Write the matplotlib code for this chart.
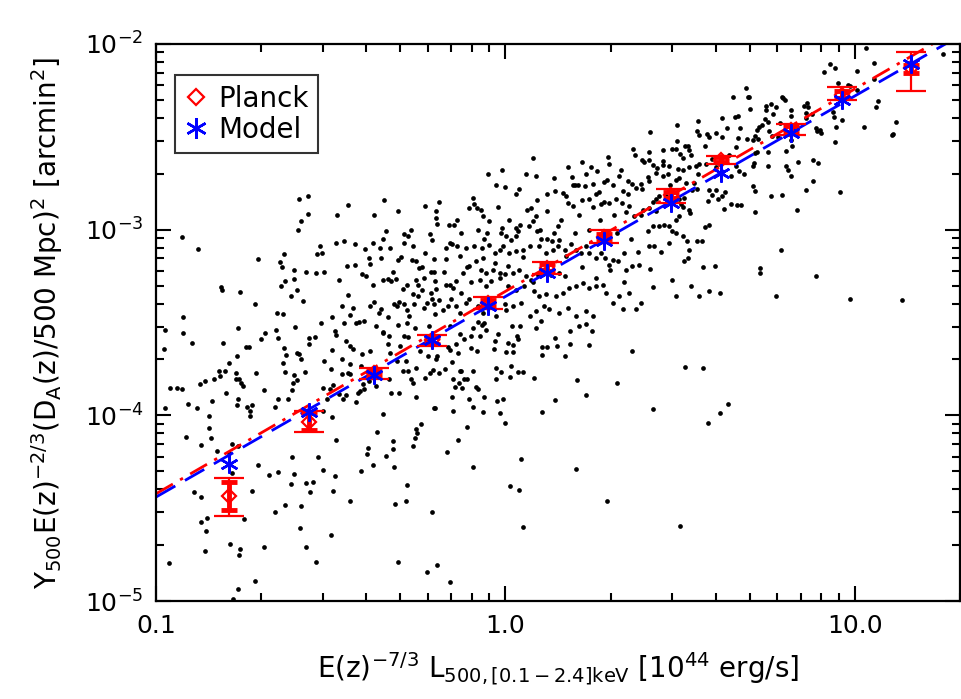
import numpy as np
import matplotlib
matplotlib.use("Agg")
import matplotlib.pyplot as plt
from matplotlib.ticker import LogLocator, FixedLocator, FixedFormatter, NullFormatter

plt.rcParams["font.family"] = ["DejaVu Sans"]
plt.rcParams["mathtext.fontset"] = "dejavusans"

# individual clusters, (log10 L, log10 Y)
clusters_log = [
    (-0.927, -3.039), (-0.881, -3.104), (-0.591, -2.837), (-0.564, -2.821), (-0.584, -2.952),
    (-0.564, -2.914), (-0.595, -3.002), (-0.451, -2.866), (-0.482, -2.919), (-0.349, -2.839),
    (-0.308, -2.902), (-0.377, -2.923), (-0.231, -2.871), (-0.191, -2.851), (-0.200, -2.937),
    (-0.197, -2.972), (-0.161, -2.977), (-0.341, -3.005), (-0.289, -3.023), (-0.280, -3.034),
    (-0.217, -3.022), (-0.210, -3.054), (-0.532, -3.086), (-0.525, -3.124), (-0.538, -3.133),
    (-0.635, -3.131), (-0.646, -3.172), (-0.640, -3.203), (-0.707, -3.158), (-0.484, -3.074),
    (-0.462, -3.061), (-0.432, -3.077), (-0.402, -3.104), (-0.380, -3.072), (-0.351, -3.048),
    (-0.360, -3.098), (-0.331, -3.097), (-0.291, -3.070), (-0.264, -3.090), (-0.390, -3.152),
    (-0.389, -3.184), (-0.355, -3.152), (-0.307, -3.165), (-0.267, -3.165), (-0.256, -3.170),
    (-0.205, -3.160), (-0.229, -3.125), (-0.169, -3.156), (-0.454, -3.194), (-0.432, -3.190),
    (-0.606, -3.215), (-0.571, -3.226), (-0.543, -3.233), (-0.520, -3.228), (-0.411, -3.237),
    (-0.400, -3.251), (-0.322, -3.228), (-0.248, -3.208), (-0.212, -3.226), (-0.205, -3.228),
    (-0.176, -3.230), (-0.632, -3.274), (-0.642, -3.305), (-0.606, -3.265), (-0.597, -3.323),
    (-0.615, -3.356), (-0.580, -3.382), (-0.476, -3.269), (-0.351, -3.269), (-0.337, -3.265),
    (-0.329, -3.274), (-0.312, -3.265), (-0.281, -3.296), (-0.256, -3.272), (-0.234, -3.260),
    (-0.201, -3.278), (-0.171, -3.299), (-0.198, -3.319), (-0.292, -3.319), (-0.264, -3.348),
    (-0.250, -3.358), (-0.212, -3.342), (-0.209, -3.371), (-0.238, -3.323), (-0.814, -3.308),
    (-0.811, -3.326), (-0.759, -3.335), (-0.718, -3.399), (-0.655, -3.448), (-0.638, -3.457),
    (-0.923, -3.469), (-0.467, -3.409), (-0.437, -3.423), (-0.446, -3.462), (-0.495, -3.469),
    (-0.389, -3.412), (-0.377, -3.387), (-0.355, -3.426), (-0.362, -3.448), (-0.337, -3.469),
    (-0.309, -3.412), (-0.306, -3.387), (-0.283, -3.435), (-0.275, -3.466), (-0.291, -3.399),
    (-0.262, -3.403), (-0.234, -3.423), (-0.225, -3.394), (-0.205, -3.403), (-0.201, -3.452),
    (-0.180, -3.434), (-0.165, -3.412),
    (0.688, -2.235), (0.652, -2.283), (0.695, -2.283), (0.657, -2.391), (0.665, -2.389),
    (0.552, -2.414), (0.490, -2.434), (0.413, -2.473), (0.548, -2.471), (0.554, -2.489),
    (0.578, -2.486), (0.602, -2.480), (0.583, -2.502), (0.621, -2.500), (0.665, -2.507),
    (0.661, -2.556), (0.690, -2.511), (0.633, -2.450), (0.476, -2.565), (0.488, -2.565),
    (0.513, -2.547), (0.521, -2.552), (0.526, -2.570), (0.366, -2.566), (0.499, -2.595),
    (0.507, -2.616), (0.450, -2.629), (0.411, -2.627), (0.392, -2.624), (0.397, -2.636),
    (0.423, -2.651), (0.435, -2.668), (0.450, -2.651), (0.469, -2.656), (0.495, -2.674),
    (0.507, -2.677), (0.526, -2.665), (0.545, -2.659), (0.554, -2.649), (0.573, -2.649),
    (0.602, -2.663), (0.613, -2.642), (0.659, -2.659), (0.645, -2.713), (0.669, -2.686),
    (0.682, -2.699), (0.219, -2.633), (0.245, -2.663), (0.293, -2.609), (0.295, -2.647),
    (0.263, -2.685), (0.080, -2.615), (0.087, -2.713), (-0.010, -2.679), (-0.027, -2.762),
    (-0.001, -2.772), (0.031, -2.808), (0.190, -2.719), (0.192, -2.762), (0.200, -2.762),
    (0.207, -2.762), (0.229, -2.767), (0.250, -2.753), (0.281, -2.746), (0.307, -2.762),
    (0.335, -2.794), (0.326, -2.713), (0.352, -2.740), (0.362, -2.754), (0.373, -2.776),
    (0.388, -2.753), (0.408, -2.717), (0.411, -2.737), (0.430, -2.695), (0.450, -2.713),
    (0.464, -2.699), (0.488, -2.731), (0.497, -2.722), (0.516, -2.749), (0.540, -2.749),
    (0.535, -2.789), (0.549, -2.781), (0.583, -2.789), (0.592, -2.812), (0.602, -2.785),
    (0.621, -2.821), (0.629, -2.797), (0.626, -2.887), (0.645, -2.860), (0.663, -2.869),
    (0.674, -2.869), (0.579, -2.848), (0.608, -2.833),
    (0.119, -2.806), (0.143, -2.794), (0.164, -2.803), (0.173, -2.821), (0.178, -2.857),
    (0.194, -2.871), (0.219, -2.839), (0.240, -2.835), (0.259, -2.806), (0.269, -2.799),
    (0.274, -2.860), (0.283, -2.853), (0.297, -2.857), (0.316, -2.835), (0.333, -2.857),
    (0.344, -2.907), (0.354, -2.875), (0.369, -2.928), (0.388, -2.919), (0.395, -2.892),
    (0.411, -2.884), (0.421, -2.853), (0.432, -2.835), (0.440, -2.821), (0.459, -2.817),
    (0.473, -2.830), (0.497, -2.835), (0.502, -2.862), (0.509, -2.880), (0.524, -2.892),
    (0.528, -2.910), (0.497, -2.928), (0.488, -2.946), (0.469, -2.982), (0.478, -3.005),
    (0.454, -2.973), (0.438, -2.982), (0.421, -2.982), (0.408, -3.005), (0.410, -3.086),
    (0.424, -3.090), (0.446, -3.120), (0.469, -3.072), (0.488, -3.018), (0.507, -3.036),
    (0.519, -3.059), (0.526, -3.108), (0.547, -3.063), (0.562, -3.059), (0.570, -2.987),
    (0.583, -2.975), (0.522, -3.154), (0.511, -3.170), (0.564, -3.201), (0.600, -3.197),
    (0.478, -3.269), (0.488, -3.355), (0.421, -3.308), (0.532, -3.305), (0.554, -3.355),
    (0.583, -3.332), (0.613, -3.341), (0.414, -3.211), (0.383, -3.188), (0.362, -3.197),
    (0.345, -3.220), (0.338, -3.125), (0.321, -3.170), (0.307, -3.161), (0.297, -3.188),
    (0.284, -3.152), (0.273, -3.125), (0.259, -3.152), (0.240, -3.125), (0.230, -3.090),
    (0.216, -3.125), (0.202, -3.108), (0.188, -3.075), (0.173, -3.143), (0.154, -3.054),
    (0.140, -3.018), (0.132, -3.063), (0.118, -3.050), (0.102, -3.050), (0.090, -3.009),
    (0.078, -2.955), (0.067, -2.982), (0.061, -2.892), (0.073, -2.884), (0.088, -2.928),
    (0.042, -2.973), (0.035, -3.009), (0.030, -3.036), (0.016, -3.054), (0.002, -3.036),
    (-0.010, -2.991), (-0.012, -3.018), (-0.046, -2.955), (-0.053, -3.018), (-0.065, -2.928),
    (-0.070, -2.892), (-0.082, -2.884), (-0.093, -2.830), (-0.091, -2.862), (-0.103, -2.884),
    (-0.127, -3.018), (-0.139, -3.090), (-0.152, -3.075), (-0.146, -2.973), (-0.160, -3.072),
    (-0.131, -3.143), (-0.112, -3.099), (-0.089, -3.090), (-0.067, -3.099), (-0.046, -3.081),
    (-0.031, -3.125), (-0.017, -3.108), (-0.008, -3.086), (0.011, -3.125), (0.030, -3.116),
    (0.050, -3.108), (0.069, -3.090), (0.097, -3.090), (0.116, -3.125), (0.135, -3.111),
    (0.150, -3.090), (0.169, -3.108), (-0.065, -3.152), (-0.084, -3.170), (-0.103, -3.197),
    (-0.122, -3.233), (-0.141, -3.278), (-0.150, -3.314), (-0.127, -3.341), (-0.112, -3.394),
    (-0.141, -3.412), (-0.155, -3.376), (-0.070, -3.215), (-0.055, -3.233), (-0.036, -3.215),
    (-0.017, -3.233), (0.007, -3.197), (0.021, -3.233), (0.040, -3.215), (0.059, -3.251),
    (0.073, -3.269), (0.092, -3.242), (0.107, -3.215), (0.130, -3.242), (0.154, -3.233),
    (-0.074, -3.269), (-0.055, -3.305), (-0.041, -3.278), (-0.017, -3.260), (0.007, -3.305),
    (0.030, -3.323), (0.054, -3.305), (0.083, -3.332), (0.097, -3.358), (0.116, -3.349),
    (0.145, -3.358), (0.164, -3.341), (0.183, -3.314), (0.202, -3.305), (0.221, -3.287),
    (0.240, -3.314), (0.259, -3.305), (0.278, -3.296), (0.288, -3.341), (0.307, -3.394),
    (0.326, -3.358), (0.354, -3.341), (0.388, -3.394), (0.373, -3.430), (0.335, -3.430),
    (-0.103, -3.376), (-0.079, -3.412), (-0.065, -3.448), (-0.027, -3.466), (0.002, -3.434),
    (0.021, -3.412), (0.045, -3.394), (0.069, -3.466), (0.088, -3.439), (0.111, -3.412),
    (0.126, -3.430), (0.154, -3.448), (0.178, -3.421), (0.202, -3.466), (0.230, -3.439),
    (0.250, -3.466),
    (1.031, -2.023), (1.251, -2.054), (0.930, -2.109), (0.942, -2.131), (0.913, -2.151),
    (1.007, -2.143), (1.054, -2.100), (0.952, -2.211), (0.979, -2.220), (0.986, -2.229),
    (1.007, -2.247), (1.054, -2.190), (1.066, -2.305), (1.059, -2.341), (1.119, -2.418),
    (1.110, -2.484), (1.107, -2.491), (1.026, -2.448), (0.963, -2.410), (0.946, -2.448),
    (0.940, -2.391), (0.938, -2.369), (0.942, -2.527), (0.697, -2.283), (0.745, -2.332),
    (0.760, -2.323), (0.773, -2.337), (0.747, -2.355), (0.767, -2.376), (0.743, -2.403),
    (0.733, -2.435), (0.726, -2.448), (0.721, -2.462), (0.714, -2.498), (0.709, -2.516),
    (0.724, -2.513), (0.754, -2.471), (0.764, -2.498), (0.790, -2.283), (0.795, -2.292),
    (0.816, -2.358), (0.817, -2.387), (0.785, -2.427), (0.854, -2.333), (0.864, -2.319),
    (0.867, -2.337), (0.859, -2.373), (0.878, -2.376), (0.890, -2.453), (0.892, -2.471),
    (0.901, -2.462), (0.904, -2.480), (0.816, -2.516), (0.819, -2.552), (0.802, -2.579),
    (0.750, -2.584), (0.714, -2.588), (0.711, -2.642), (0.709, -2.659), (0.750, -2.656),
    (0.802, -2.659), (0.810, -2.677), (0.816, -2.713), (0.838, -2.633), (0.881, -2.624),
    (0.895, -2.642), (0.881, -2.740), (0.860, -2.789), (0.957, -2.796), (0.709, -2.767),
    (0.714, -2.794), (0.761, -2.821), (0.790, -2.812), (0.713, -2.907), (0.835, -2.896),
    (0.788, -3.108), (0.729, -3.204), (0.729, -3.233), (0.890, -3.247), (0.773, -3.355),
    (0.986, -3.371), (1.134, -3.380),
    (-0.974, -3.541), (-0.924, -3.556), (-0.898, -3.613), (-0.977, -3.645), (-0.808, -3.609),
    (-0.765, -3.529), (-0.791, -3.717), (-0.767, -3.681), (-0.743, -3.631), (-0.733, -3.631),
    (-0.700, -3.588), (-0.689, -3.556), (-0.657, -3.541), (-0.650, -3.582), (-0.603, -3.523),
    (-0.634, -3.636), (-0.629, -3.677), (-0.636, -3.720), (-0.631, -3.767), (-0.598, -3.667),
    (-0.591, -3.672), (-0.584, -3.695), (-0.562, -3.582), (-0.546, -3.577), (-0.562, -3.618),
    (-0.527, -3.502), (-0.520, -3.708), (-0.498, -3.749), (-0.495, -3.649), (-0.489, -3.547),
    (-0.484, -3.565), (-0.463, -3.502), (-0.455, -3.600), (-0.446, -3.624), (-0.467, -3.695),
    (-0.436, -3.642), (-0.427, -3.502), (-0.406, -3.493), (-0.411, -3.672), (-0.446, -3.726),
    (-0.450, -3.771), (-0.467, -3.780), (-0.414, -3.735), (-0.389, -3.654), (-0.370, -3.520),
    (-0.350, -3.559), (-0.333, -3.573), (-0.336, -3.618), (-0.331, -3.663), (-0.308, -3.511),
    (-0.282, -3.505), (-0.260, -3.529), (-0.289, -3.573), (-0.303, -3.627), (-0.310, -3.708),
    (-0.284, -3.708), (-0.257, -3.744), (-0.244, -3.654), (-0.222, -3.681), (-0.208, -3.756),
    (-0.190, -3.774), (-0.174, -3.753), (-0.196, -3.681), (-0.200, -3.699), (-0.165, -3.631),
    (-0.960, -3.851), (-0.941, -3.851), (-0.925, -3.860), (-0.974, -3.959), (-0.908, -3.941),
    (-0.884, -3.959), (-0.874, -3.833), (-0.860, -3.815), (-0.841, -3.923), (-0.848, -4.004),
    (-0.819, -3.762), (-0.834, -3.803), (-0.817, -3.789), (-0.803, -3.762), (-0.800, -3.878),
    (-0.770, -3.774), (-0.771, -3.803), (-0.762, -3.806), (-0.758, -3.824), (-0.752, -3.842),
    (-0.765, -3.914), (-0.768, -3.946), (-0.741, -3.953), (-0.731, -3.977), (-0.714, -3.771),
    (-0.691, -3.864), (-0.660, -3.953), (-0.652, -3.910), (-0.623, -3.910), (-0.612, -3.864),
    (-0.608, -3.824), (-0.598, -3.810), (-0.605, -3.785), (-0.573, -3.767), (-0.522, -3.851),
    (-0.503, -3.860), (-0.493, -3.839), (-0.510, -3.914), (-0.495, -4.007), (-0.521, -3.977),
    (-0.476, -3.887), (-0.465, -3.914), (-0.455, -3.892), (-0.446, -3.780), (-0.429, -3.928),
    (-0.421, -3.882), (-0.415, -3.869), (-0.406, -3.860), (-0.408, -3.833), (-0.391, -3.815),
    (-0.371, -3.842), (-0.333, -3.806), (-0.327, -3.882), (-0.305, -3.882), (-0.293, -3.762),
    (-0.279, -3.762), (-0.265, -3.824), (-0.270, -3.806), (-0.255, -3.900), (-0.229, -3.797),
    (-0.215, -3.774), (-0.203, -3.959), (-0.914, -4.115), (-0.872, -4.159), (-0.848, -4.066),
    (-0.843, -4.120), (-0.825, -4.192), (-0.784, -4.156), (-0.765, -4.167), (-0.731, -4.004),
    (-0.724, -3.946), (-0.708, -4.267), (-0.677, -4.323), (-0.650, -4.303), (-0.610, -4.222),
    (-0.605, -4.317), (-0.615, -4.371), (-0.630, -4.484), (-0.570, -4.362), (-0.550, -4.357),
    (-0.560, -4.412), (-0.536, -4.224), (-0.522, -4.294), (-0.489, -4.326), (-0.493, -4.410),
    (-0.486, -4.133), (-0.446, -4.461), (-0.392, -4.177), (-0.396, -4.206), (-0.379, -4.267),
    (-0.412, -4.299), (-0.367, -4.090), (-0.350, -3.991), (-0.322, -4.138), (-0.322, -4.179),
    (-0.343, -4.219), (-0.320, -4.276), (-0.317, -4.475), (-0.281, -4.376), (-0.286, -4.461),
    (-0.265, -4.165), (-0.260, -4.120), (-0.252, -4.093), (-0.241, -4.048), (-0.255, -4.075),
    (-0.167, -4.195), (-0.205, -3.959), (-0.210, -4.523), (-0.224, -4.846), (-0.196, -4.806),
    (-0.308, -4.792), (-0.541, -4.792), (-0.571, -4.708), (-0.587, -4.609), (-0.584, -4.491),
    (-0.660, -4.523), (-0.498, -4.645), (-0.690, -4.708), (-0.717, -4.892), (-0.765, -4.935),
    (-0.762, -4.753), (-0.760, -4.720), (-0.789, -4.694), (-0.779, -4.989), (-0.859, -4.731),
    (-0.872, -4.577), (-0.855, -4.552), (-0.857, -4.625), (-0.890, -4.412), (-0.870, -4.439),
    (-0.962, -4.796), (-0.748, -4.559), (-0.724, -4.407), (-0.792, -4.201), (-0.784, -4.308),
    (-0.160, -3.520), (-0.130, -3.564), (-0.120, -3.588), (-0.141, -3.618), (-0.136, -3.663),
    (-0.152, -3.713), (-0.158, -3.649), (-0.149, -3.803), (-0.133, -3.824), (-0.143, -3.848),
    (-0.125, -3.851), (-0.118, -3.803), (-0.109, -3.803), (-0.131, -3.762), (-0.126, -3.762),
    (-0.093, -3.762), (-0.099, -3.636), (-0.082, -3.651), (-0.098, -3.573), (-0.093, -3.529),
    (-0.072, -3.573), (-0.068, -3.516), (-0.060, -3.505), (-0.055, -3.541), (-0.152, -3.901),
    (-0.150, -3.978), (-0.105, -3.914), (-0.093, -3.953), (-0.065, -3.984), (-0.061, -3.900),
    (-0.084, -3.846), (-0.079, -3.860), (-0.027, -3.744), (-0.012, -3.767), (-0.027, -3.806),
    (-0.033, -3.645), (-0.031, -3.600), (0.007, -3.609), (0.002, -3.658), (0.021, -3.659),
    (0.023, -3.622), (0.018, -3.520), (0.032, -3.573), (0.042, -3.520), (0.035, -3.588),
    (0.016, -3.735), (0.013, -3.794), (0.037, -3.767), (0.050, -3.767), (-0.024, -3.923),
    (-0.007, -3.910), (-0.017, -3.987), (-0.001, -4.041), (-0.109, -4.061), (-0.136, -4.134),
    (-0.093, -4.280), (0.044, -4.233), (0.014, -4.380), (0.038, -4.400), (0.050, -4.600),
    (-0.160, -4.896), (0.081, -3.798), (0.088, -3.529), (0.102, -3.493), (0.105, -3.631),
    (0.118, -3.631), (0.105, -3.674), (0.105, -3.980), (0.142, -3.918), (0.143, -3.586),
    (0.148, -3.624), (0.169, -3.681), (0.185, -3.618), (0.185, -3.547), (0.211, -3.520),
    (0.230, -3.507), (0.238, -3.620), (0.247, -3.548), (0.205, -3.810), (0.231, -3.889),
    (0.201, -4.287), (0.290, -4.461), (0.319, -3.828), (0.362, -3.652), (0.422, -3.964),
    (0.499, -4.595), (0.513, -3.738), (0.566, -3.744), (0.580, -4.039), (0.613, -3.987),
    (0.636, -3.937),
    # denser part of the band, read at lower precision
    (-0.05, -2.70), (-0.02, -2.88), (0.01, -2.95), (0.04, -2.78), (0.06, -2.70),
    (0.09, -2.84), (0.12, -2.90), (0.14, -2.72), (0.16, -2.95), (0.18, -2.66),
    (0.21, -2.92), (0.23, -2.70), (0.25, -2.88), (0.27, -2.95), (0.29, -2.73),
    (0.31, -2.92), (0.33, -2.68), (0.35, -2.81), (0.37, -2.60), (0.39, -2.78),
    (0.41, -2.58), (0.43, -2.90), (0.45, -2.57), (0.47, -2.76), (0.49, -2.52),
    (0.51, -2.83), (0.53, -2.60), (0.55, -2.70), (0.57, -2.55), (0.59, -2.62),
    (-0.06, -3.05), (-0.03, -3.18), (0.00, -3.24), (0.03, -2.99), (0.05, -3.15),
    (0.08, -3.28), (0.10, -3.00), (0.13, -3.18), (0.15, -2.98), (0.17, -3.25),
    (0.20, -3.02), (0.22, -3.20), (0.24, -3.00), (0.26, -3.26), (0.28, -3.05),
    (0.30, -3.22), (0.32, -3.02), (0.34, -3.28), (0.36, -3.05), (0.38, -3.12),
    (-0.45, -3.35), (-0.42, -3.50), (-0.38, -3.30), (-0.35, -3.55), (-0.32, -3.40),
    (-0.28, -3.58), (-0.25, -3.30), (-0.22, -3.52), (-0.19, -3.38), (-0.16, -3.30),
    (-0.13, -3.45), (-0.10, -3.28), (-0.08, -3.50), (-0.05, -3.38), (-0.02, -3.56),
    (0.00, -3.40), (-0.30, -3.15), (-0.27, -3.00), (-0.24, -3.20), (-0.20, -2.90),
    (-0.17, -3.10), (-0.14, -2.95), (-0.11, -3.20), (-0.08, -3.00),
    (0.62, -2.40), (0.64, -2.60), (0.67, -2.45), (0.70, -2.35), (0.72, -2.58),
    (0.75, -2.42), (0.78, -2.50), (0.80, -2.30), (0.83, -2.45), (0.86, -2.40),
]

# binned relation
bin_lx = [0.162, 0.274, 0.420, 0.615, 0.889, 1.318, 1.918, 2.98, 4.14, 6.56, 9.18, 14.45]
model_y = [5.46e-5, 1.04e-4, 1.64e-4, 2.53e-4, 3.86e-4, 5.87e-4, 8.73e-4, 1.40e-3,
           2.02e-3, 3.33e-3, 5.0e-3, 7.8e-3]
planck_y = [3.67e-5, 9.2e-5, 1.68e-4, 2.53e-4, 4.05e-4, 6.25e-4, 9.17e-4, 1.54e-3,
            2.38e-3, 3.45e-3, 5.3e-3, 7.42e-3]
planck_lo = [2.87e-5, 8.1e-5, 1.56e-4, 2.35e-4, 3.75e-4, 5.8e-4, 8.5e-4, 1.40e-3,
             2.25e-3, 3.25e-3, 5.0e-3, 5.58e-3]
planck_hi = [4.58e-5, 1.06e-4, 1.79e-4, 2.72e-4, 4.35e-4, 6.7e-4, 9.9e-4, 1.65e-3,
             2.5e-3, 3.7e-3, 5.9e-3, 9.06e-3]
planck_lo_in = [3.08e-5, 8.3e-5, 1.62e-4, 2.42e-4, 3.9e-4, 6.0e-4, 8.85e-4, 1.48e-3,
                2.3e-3, 3.3e-3, 5.1e-3, 7.0e-3]
planck_hi_in = [4.36e-5, 1.04e-4, 1.74e-4, 2.65e-4, 4.2e-4, 6.5e-4, 9.5e-4, 1.60e-3,
                2.45e-3, 3.6e-3, 5.6e-3, 7.7e-3]

# fitted relations (end points)
fit_x = [0.1, 20.0]
planck_fit_y = [3.78e-5, 1.22e-2]
model_fit_y = [3.63e-5, 1.11e-2]

fig = plt.figure(figsize=(9.62, 6.99), dpi=100)
ax = fig.add_axes([0.1622, 0.1402, 0.8358, 0.7969])

pts = np.array(clusters_log)
ax.plot(10 ** pts[:, 0], 10 ** pts[:, 1], "o", color="black", ms=3.4, mew=0, zorder=1)

ax.plot(fit_x, planck_fit_y, color="red", lw=2.0, ls=(0, (7, 3, 1.2, 3)), zorder=2)
ax.plot(fit_x, model_fit_y, color="blue", lw=2.0, ls=(0, (8, 4)), zorder=2)

bx = np.array(bin_lx)
py = np.array(planck_y)
outer = [py - np.array(planck_lo), np.array(planck_hi) - py]
inner = [py - np.array(planck_lo_in), np.array(planck_hi_in) - py]
ax.errorbar(bx, py, yerr=outer, fmt="none", ecolor="red", elinewidth=1.6,
            capsize=11, capthick=1.6, zorder=3)
ax.errorbar(bx, py, yerr=inner, fmt="none", ecolor="red", elinewidth=3.5,
            capsize=6, capthick=3.5, zorder=3)
ax.plot(bx, py, "D", mfc="none", mec="red", ms=7.5, mew=1.6, zorder=4, label="Planck")
ax.plot(bx, model_y, ls="none", marker=(6, 2, 0), color="blue", ms=13, mew=1.8,
        zorder=5, label="Model")

ax.set_xscale("log")
ax.set_yscale("log")
ax.set_xlim(0.1, 20)
ax.set_ylim(1e-5, 1e-2)

ax.xaxis.set_major_locator(FixedLocator([0.1, 1.0, 10.0]))
ax.xaxis.set_major_formatter(FixedFormatter(["0.1", "1.0", "10.0"]))
ax.xaxis.set_minor_locator(LogLocator(base=10, subs=np.arange(2, 10)))
ax.xaxis.set_minor_formatter(NullFormatter())
ax.yaxis.set_minor_locator(LogLocator(base=10, subs=np.arange(2, 10)))
ax.yaxis.set_minor_formatter(NullFormatter())

ax.tick_params(which="both", direction="in", top=True, right=True, width=1.5,
               labelsize=18, pad=9)
ax.tick_params(which="major", length=11)
ax.tick_params(which="minor", length=5.5)
for sp in ax.spines.values():
    sp.set_linewidth(1.6)

ax.set_xlabel(r"E(z)$^{-7/3}$ L$_{500,[0.1-2.4]\mathrm{keV}}$ [10$^{44}$ erg/s]",
              fontsize=20, labelpad=9)
ax.set_ylabel(r"Y$_{500}$E(z)$^{-2/3}$(D$_\mathrm{A}$(z)/500 Mpc)$^2$ [arcmin$^2$]",
              fontsize=20, labelpad=14)

leg = ax.legend(loc="upper left", bbox_to_anchor=(0.0236, 0.944), borderaxespad=0,
                fontsize=20, frameon=True, fancybox=False, handlelength=0.8,
                handletextpad=0.4, borderpad=0.35, labelspacing=0.1, markerscale=1.15)
leg.get_frame().set_edgecolor("black")
leg.get_frame().set_linewidth(1.5)

fig.savefig("out.png", dpi=100)
